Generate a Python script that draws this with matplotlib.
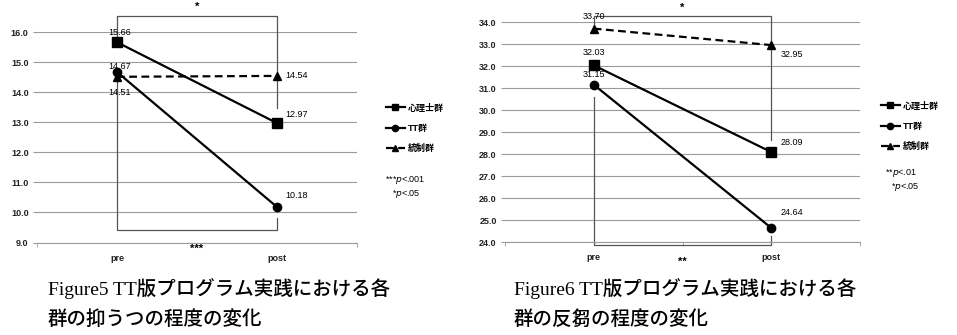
import matplotlib
matplotlib.use("Agg")
import matplotlib.pyplot as plt
import numpy as np

plt.rcParams['font.family'] = ['Liberation Sans', 'Noto Sans CJK JP', 'DejaVu Sans']

# data
times = ["pre", "post"]
groups = ["心理士群", "TT群", "統制群"]

dep_psy = [15.66, 12.97]
dep_tt = [14.67, 10.18]
dep_ctl = [14.51, 14.54]

hos_psy = [32.03, 28.09]
hos_tt = [31.15, 24.64]
hos_ctl = [33.70, 32.95]

cap5 = ["Figure5 TT版プログラム実践における各", "群の抑うつの程度の変化"]
cap6 = ["Figure6 TT版プログラム実践における各", "群の反芻の程度の変化"]
notes5 = [r"***$p$<.001", r"*$p$<.05"]
notes6 = [r"**$p$<.01", r"*$p$<.05"]

W, H = 957, 335
fig = plt.figure(figsize=(W / 100, H / 100), dpi=100)


def fx(px):
    return px / W


def fy(py):
    return 1 - py / H


grid_c = "#9a9a9a"
brk_c = "#555555"


def setup(ax, ylim):
    ax.set_xlim(-0.5, 1.5)
    ax.set_ylim(*ylim)
    ax.set_yticks(np.arange(ylim[0], ylim[1] + 0.5, 1.0))
    ax.yaxis.set_major_formatter(matplotlib.ticker.FormatStrFormatter("%.1f"))
    ax.grid(axis="y", color=grid_c, linewidth=0.8)
    ax.set_axisbelow(True)
    for s in ["top", "right", "left"]:
        ax.spines[s].set_visible(False)
    ax.spines["bottom"].set_color(grid_c)
    ax.spines["bottom"].set_linewidth(0.8)
    ax.tick_params(axis="y", length=3, color=grid_c, labelsize=6.5, pad=3)
    ax.set_xticks([0, 1])
    ax.set_xticklabels(times)
    ax.set_xticks([-0.5, 0.5, 1.5], minor=True)
    ax.tick_params(axis="x", which="major", length=0, labelsize=6.5, pad=8)
    ax.tick_params(axis="x", which="minor", length=3, color=grid_c)
    for t in ax.get_yticklabels() + ax.get_xticklabels():
        t.set_fontweight("bold")
        t.set_color("#222222")


def draw_lines(ax, psy, tt, ctl):
    h1, = ax.plot([0, 1], psy, color="black", lw=1.6, marker="s", ms=6.5, label=groups[0])
    h2, = ax.plot([0, 1], tt, color="black", lw=1.6, marker="o", ms=6, label=groups[1])
    h3, = ax.plot([0, 1], ctl, color="black", lw=1.6, ls=(0, (3.5, 2)), marker="^", ms=6, label=groups[2])
    return [h1, h2, h3]


def lab(ax, x, y, v, dx, dy, ha="center"):
    ax.annotate(f"{v:.2f}", (x, y), xytext=(dx, dy), textcoords="offset points",
                ha=ha, va="center", fontsize=6.5, annotation_clip=False)


def legend(ax, hs, x, y):
    ax.legend(handles=hs, loc="upper left", bbox_to_anchor=(fx(x), fy(y)),
              bbox_transform=fig.transFigure, frameon=False,
              prop={"size": 6.5, "weight": "bold"},
              handlelength=2.2, handletextpad=0.3, labelspacing=1.25, borderpad=0,
              markerscale=0.75)


# ---- Figure 5 ----
ax1 = fig.add_axes([fx(37), fy(242.5), fx(357) - fx(37), fy(32) - fy(242.5)])
setup(ax1, (9, 16))
hs = draw_lines(ax1, dep_psy, dep_tt, dep_ctl)

lab(ax1, 0, dep_psy[0], dep_psy[0], 2, 7)
lab(ax1, 0, dep_tt[0], dep_tt[0], 2, 4)
lab(ax1, 0, dep_ctl[0], dep_ctl[0], 2, -11.5)
lab(ax1, 1, dep_ctl[1], dep_ctl[1], 6, 0, ha="left")
lab(ax1, 1, dep_psy[1], dep_psy[1], 6, 6, ha="left")
lab(ax1, 1, dep_tt[1], dep_tt[1], 6, 8, ha="left")

# significance brackets
ax1.plot([0, 0, 1, 1], [dep_psy[0], 16.53, 16.53, 13.47], color=brk_c, lw=0.9, clip_on=False, zorder=1)
ax1.plot([0, 0, 1, 1], [dep_ctl[0], 9.43, 9.43, 9.83], color=brk_c, lw=0.9, clip_on=False, zorder=1)
ax1.text(0.5, 16.85, "*", ha="center", va="center", fontsize=8, fontweight="bold")
ax1.text(0.5, 8.78, "***", ha="center", va="center", fontsize=8, fontweight="bold")

legend(ax1, hs, 381, 99)
fig.text(fx(385), fy(180), notes5[0], fontsize=6.5, va="center")
fig.text(fx(392), fy(194), notes5[1], fontsize=6.5, va="center")

# ---- Figure 6 ----
ax2 = fig.add_axes([fx(505), fy(242), fx(860) - fx(505), fy(22) - fy(242)])
setup(ax2, (24, 34))
hs = draw_lines(ax2, hos_psy, hos_tt, hos_ctl)

lab(ax2, 0, hos_ctl[0], hos_ctl[0], 0, 9)
lab(ax2, 0, hos_psy[0], hos_psy[0], 0, 9)
lab(ax2, 0, hos_tt[0], hos_tt[0], 0, 7)
lab(ax2, 1, hos_ctl[1], hos_ctl[1], 7, -7, ha="left")
lab(ax2, 1, hos_psy[1], hos_psy[1], 7, 7, ha="left")
lab(ax2, 1, hos_tt[1], hos_tt[1], 7, 11, ha="left")

ax2.plot([0, 0, 1, 1], [hos_ctl[0], 34.27, 34.27, 28.64], color=brk_c, lw=0.9, clip_on=False, zorder=1)
ax2.plot([0, 0, 1, 1], [30.59, 23.86, 23.86, 24.27], color=brk_c, lw=0.9, clip_on=False, zorder=1)
ax2.text(0.5, 34.66, "*", ha="center", va="center", fontsize=8, fontweight="bold")
ax2.text(0.5, 23.12, "**", ha="center", va="center", fontsize=8, fontweight="bold")

legend(ax2, hs, 876, 97)
fig.text(fx(885), fy(173), notes6[0], fontsize=6.5, va="center")
fig.text(fx(891), fy(187), notes6[1], fontsize=6.5, va="center")

# captions
cap_font = ['Liberation Serif', 'Noto Sans CJK JP']
for x0, cap in [(48, cap5), (514, cap6)]:
    fig.text(fx(x0), fy(289), cap[0], fontsize=14, family=cap_font, va="center", fontweight="medium")
    fig.text(fx(x0), fy(320), cap[1], fontsize=14, family=cap_font, va="center", fontweight="medium")

fig.savefig("out.png", dpi=100, facecolor="white")
